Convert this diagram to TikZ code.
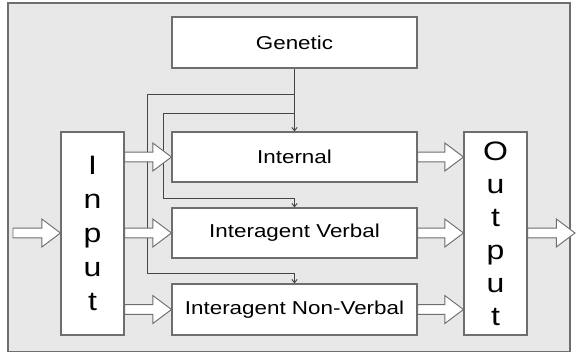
\documentclass[tikz,border=0pt]{standalone}
\usepackage{fontspec}
\setmainfont[FakeStretch=1.2]{Liberation Sans}
\usetikzlibrary{arrows.meta,calc}
\definecolor{bgc}{RGB}{232,232,232}
\definecolor{edgec}{RGB}{110,110,110}
\definecolor{linec}{RGB}{70,70,70}
\tikzset{
  box/.style={draw=edgec, line width=0.8pt, fill=white, inner sep=0pt, font=\fontsize{14}{16}\selectfont},
  tallbox/.style={box, minimum width=47.25pt, minimum height=152.25pt, align=center},
  conn/.style={draw=linec, line width=0.7pt, -{Straight Barb[length=2.5pt,width=4pt]}},
  blockarr/.style={draw=edgec, line width=0.7pt, fill=white, line join=miter},
}
\newcommand{\blockarrow}[2]{%
  \path let \p1=(#1), \p2=(#2) in [blockarr]
    (\x1,\y1+3.6pt) -- (\x2-14pt,\y1+3.6pt) -- (\x2-14pt,\y1+10.5pt) -- (\x2,\y1)
    -- (\x2-14pt,\y1-10.5pt) -- (\x2-14pt,\y1-3.6pt) -- (\x1,\y1-3.6pt) -- cycle;}
\begin{document}
\begin{tikzpicture}[x=0.75pt,y=-0.75pt]
\useasboundingbox (0,0) rectangle (577,353);
\fill[white] (0,0) rectangle (577,353);
\draw[edgec, fill=bgc, line width=0.8pt] (8,3) rectangle (570,351.5);

% boxes
\node[box, minimum width=183.75pt, minimum height=38.25pt] (gen) at (294.5,42.5) {Genetic};
\node[box, minimum width=183.75pt, minimum height=37.5pt] (int) at (294.5,157) {Internal};
\node[box, minimum width=183.75pt, minimum height=37.5pt] (verb) at (294.5,233) {Interagent Verbal};
\node[box, minimum width=183.75pt, minimum height=38.25pt] (nonv) at (294.5,309.5) {Interagent Non-Verbal};
\node[tallbox, font=\fontsize{20}{25.5}\selectfont] (in) at (92.5,233.5) {I\\n\\p\\u\\t};
\node[tallbox, font=\fontsize{20}{24.75}\selectfont] (out) at (495.5,233.5) {O\\u\\t\\p\\u\\t};

% coordinates for connector corners and free ends
\coordinate (c1) at (147,94);
\coordinate (c2) at (163,113);
\coordinate (c3) at (294.5,273);
\coordinate (c4) at (294.5,198);
\coordinate (src) at (13,233);
\coordinate (snk) at (575,233);

% thin connectors from Genetic
\draw[conn] (gen.south) -- (int.north);
\draw[conn] (gen.south) |- (c1) |- (c3) -- (nonv.north);
\draw[conn] (gen.south) |- (c2) |- (c4) -- (verb.north);

% block arrows
\blockarrow{src}{in.west |- src}
\blockarrow{in.east |- int.west}{int.west}
\blockarrow{in.east |- verb.west}{verb.west}
\blockarrow{in.east |- nonv.west}{nonv.west}
\blockarrow{int.east}{out.west |- int.east}
\blockarrow{verb.east}{out.west |- verb.east}
\blockarrow{nonv.east}{out.west |- nonv.east}
\blockarrow{out.east |- snk}{snk}
\end{tikzpicture}
\end{document}
